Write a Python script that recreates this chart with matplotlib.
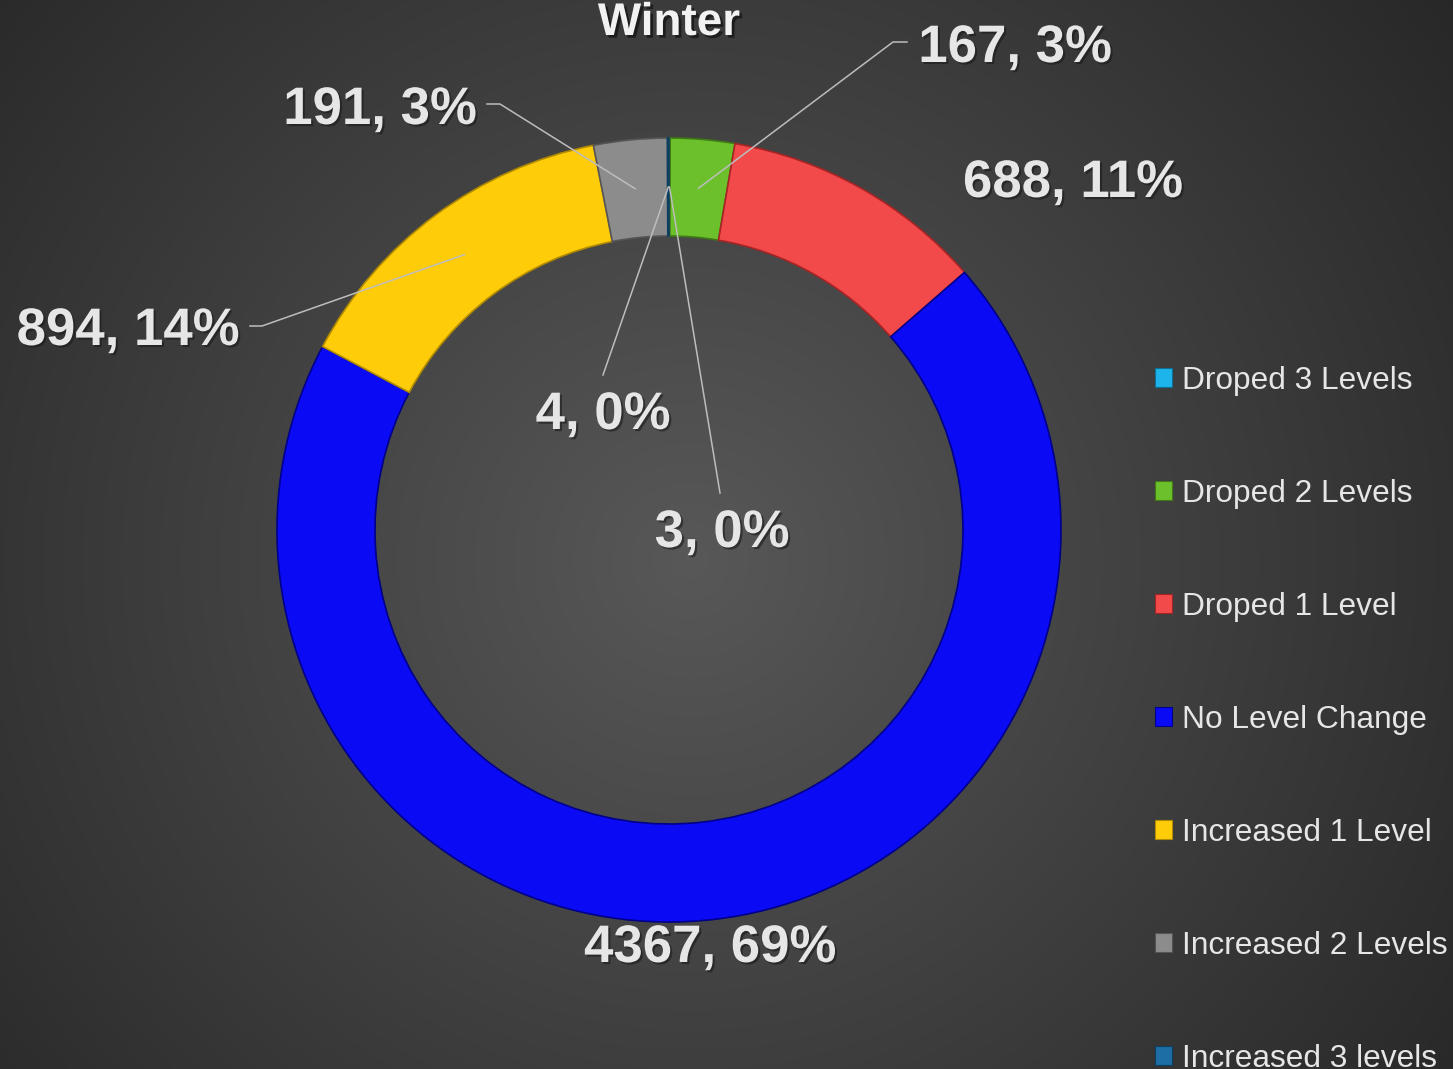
import numpy as np
import matplotlib
matplotlib.use("Agg")
import matplotlib.pyplot as plt
from matplotlib.patches import Patch
import matplotlib.patheffects as pe

# ---- data ----
categories = ["Droped 3 Levels", "Droped 2 Levels", "Droped 1 Level", "No Level Change",
              "Increased 1 Level", "Increased 2 Levels", "Increased 3 levels"]
values = [3, 167, 688, 4367, 894, 191, 4]
colors = ["#1cb4ea", "#6cc02c", "#f24a4a", "#0a0af5", "#ffcc0a", "#8c8c8c", "#1c6ea4"]
edge_colors = ["#0f6f94", "#3f7a14", "#a82424", "#00008a", "#b08a00", "#555555", "#0d3f60"]
title = "Winter"

W, H = 1453, 1069
fig = plt.figure(figsize=(W / 100, H / 100), dpi=100)

# background radial gradient
bg = fig.add_axes([0, 0, 1, 1])
yy, xx = np.mgrid[0:H, 0:W]
d = np.sqrt(((xx - 690) / 1000.0) ** 2 + ((yy - 560) / 1000.0) ** 2)
lum = 0.345 - 0.20 * np.clip(d, 0, 1.2)
bg.imshow(np.dstack([lum, lum, lum]), extent=[0, W, H, 0], aspect="auto")
bg.axis("off")

# donut axes: centre (669, 530) px, outer radius 392 px
cx, cy, R = 669, 530, 392
ax = fig.add_axes([(cx - R) / W, (H - cy - R) / H, 2 * R / W, 2 * R / H])

wedges, _ = ax.pie(values, colors=colors, startangle=90, counterclock=False, radius=1.0,
                   wedgeprops=dict(width=0.25, linewidth=1.2))
for w, ec in zip(wedges, edge_colors):
    w.set_edgecolor(ec)
ax.set_xlim(-1, 1)
ax.set_ylim(-1, 1)
ax.set_aspect("auto")
ax.axis("off")

total = sum(values)
labels = [f"{v}, {round(100 * v / total):.0f}%" for v in values]

def px(x, y):
    return ((x - cx) / R, (cy - y) / R)

# label positions (pixel centres), leader elbow points
label_pos = [(722, 533), (1015, 48), (1073, 183), (710, 948), (128, 331), (380, 110), (603, 415)]
leader_end = [(720, 493), (893, 42), None, None, (262, 326), (500, 104), (603, 375)]
leader_tail = [None, (907, 42), None, None, (250, 326), (487, 104), None]

txt_fx = [pe.withSimplePatchShadow(offset=(1.5, -1.5), shadow_rgbFace="#1a1a1a", alpha=0.6)]
for i, w in enumerate(wedges):
    mid = np.deg2rad((w.theta1 + w.theta2) / 2)
    ax_, ay_ = 0.875 * np.cos(mid), 0.875 * np.sin(mid)
    if leader_end[i] is not None:
        ex, ey = px(*leader_end[i])
        xs, ys = [ax_, ex], [ay_, ey]
        if leader_tail[i] is not None:
            tx, ty = px(*leader_tail[i])
            xs.append(tx)
            ys.append(ty)
        ax.plot(xs, ys, color="#bdbdbd", lw=1.1, clip_on=False, zorder=5)
    lx, ly = px(*label_pos[i])
    ax.text(lx, ly, labels[i], ha="center", va="center", fontsize=38, fontweight="bold",
            family="Liberation Sans", color="#e6e6e6", clip_on=False, zorder=6,
            path_effects=txt_fx)

fig.text(cx / W, 1 - 23 / H, title, ha="center", va="center", fontsize=33, fontweight="bold",
         family="Liberation Sans", color="#f2f2f2",
         path_effects=[pe.withSimplePatchShadow(offset=(2, -2), shadow_rgbFace="#111111", alpha=0.7)])

handles = [Patch(facecolor=c, edgecolor=e, linewidth=0.8) for c, e in zip(colors, edge_colors)]
leg = fig.legend(handles, categories, loc="upper left", bbox_to_anchor=(1155 / W, 1 - 366 / H),
                 frameon=False, labelspacing=2.62, handlelength=0.55,
                 handleheight=0.55, handletextpad=0.3, borderpad=0, borderaxespad=0,
                 prop=dict(family="Liberation Sans", size=22.8))
for t in leg.get_texts():
    t.set_color("#e6e6e6")

fig.savefig("out.png", dpi=100)
